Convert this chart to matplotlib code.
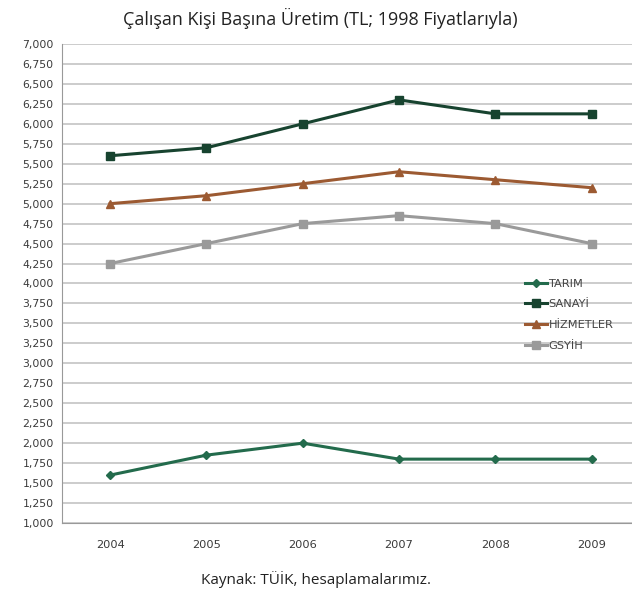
import matplotlib
matplotlib.use("Agg")
import matplotlib.pyplot as plt
from matplotlib.ticker import FuncFormatter, MultipleLocator

years = ["2004", "2005", "2006", "2007", "2008", "2009"]
tarim = [1600, 1850, 2000, 1800, 1800, 1800]
sanayi = [5600, 5700, 6000, 6300, 6125, 6125]
hizmetler = [5000, 5100, 5250, 5400, 5300, 5200]
gsyih = [4250, 4500, 4750, 4850, 4750, 4500]

series = [
    ("TARIM", tarim, "#236b4c", "D", 4),
    ("SANAYİ", sanayi, "#17432f", "s", 6),
    ("HİZMETLER", hizmetler, "#9c5a32", "^", 6),
    ("GSYİH", gsyih, "#9a9a9a", "s", 6),
]

fig = plt.figure(figsize=(6.32, 5.95), dpi=100)
ax = fig.add_axes([62/632, 1 - 523/595, 1 - 62/632, (523 - 44)/595])

x = list(range(len(years)))
for name, vals, col, mk, ms in series:
    ax.plot(x, vals, color=col, marker=mk, markersize=ms, linewidth=2.2, label=name)

ax.set_ylim(1000, 7000)
ax.set_xlim(-0.5, 5.42)
ax.yaxis.set_major_locator(MultipleLocator(250))
ax.yaxis.set_major_formatter(FuncFormatter(lambda v, p: f"{int(v):,}"))
ax.set_xticks(x)
ax.set_xticklabels(years)
ax.grid(axis="y", color="#c8c8c8", linewidth=1.3)
ax.set_axisbelow(True)
for s in ["top", "right"]:
    ax.spines[s].set_visible(False)
ax.spines["left"].set_color("#999999")
ax.spines["bottom"].set_color("#999999")
ax.tick_params(axis="y", labelsize=7.8, colors="#3a3a3a", length=0, pad=6)
ax.tick_params(axis="x", labelsize=8.2, colors="#3a3a3a", length=0, pad=12)
for lab in ax.get_yticklabels() + ax.get_xticklabels():
    lab.set_fontfamily("DejaVu Sans")

leg = ax.legend(loc="upper left", bbox_to_anchor=((520 - 62)/570, (523 - 274)/479),
                frameon=False, handlelength=2.0, handletextpad=0.1,
                labelspacing=0.95, borderaxespad=0,
                prop={"family": "DejaVu Sans", "size": 8.2})
for t in leg.get_texts():
    t.set_color("#444444")

fig.text(320/632, 1 - 18/595, "Çalışan Kişi Başına Üretim (TL; 1998 Fiyatlarıyla)",
         ha="center", va="center", fontsize=13, family="Open Sans", color="#222222")
fig.text(316/632, 1 - 580/595, "Kaynak: TÜİK, hesaplamalarımız.",
         ha="center", va="center", fontsize=11, family="Open Sans", color="#222222")

fig.savefig("out.png", dpi=100)
